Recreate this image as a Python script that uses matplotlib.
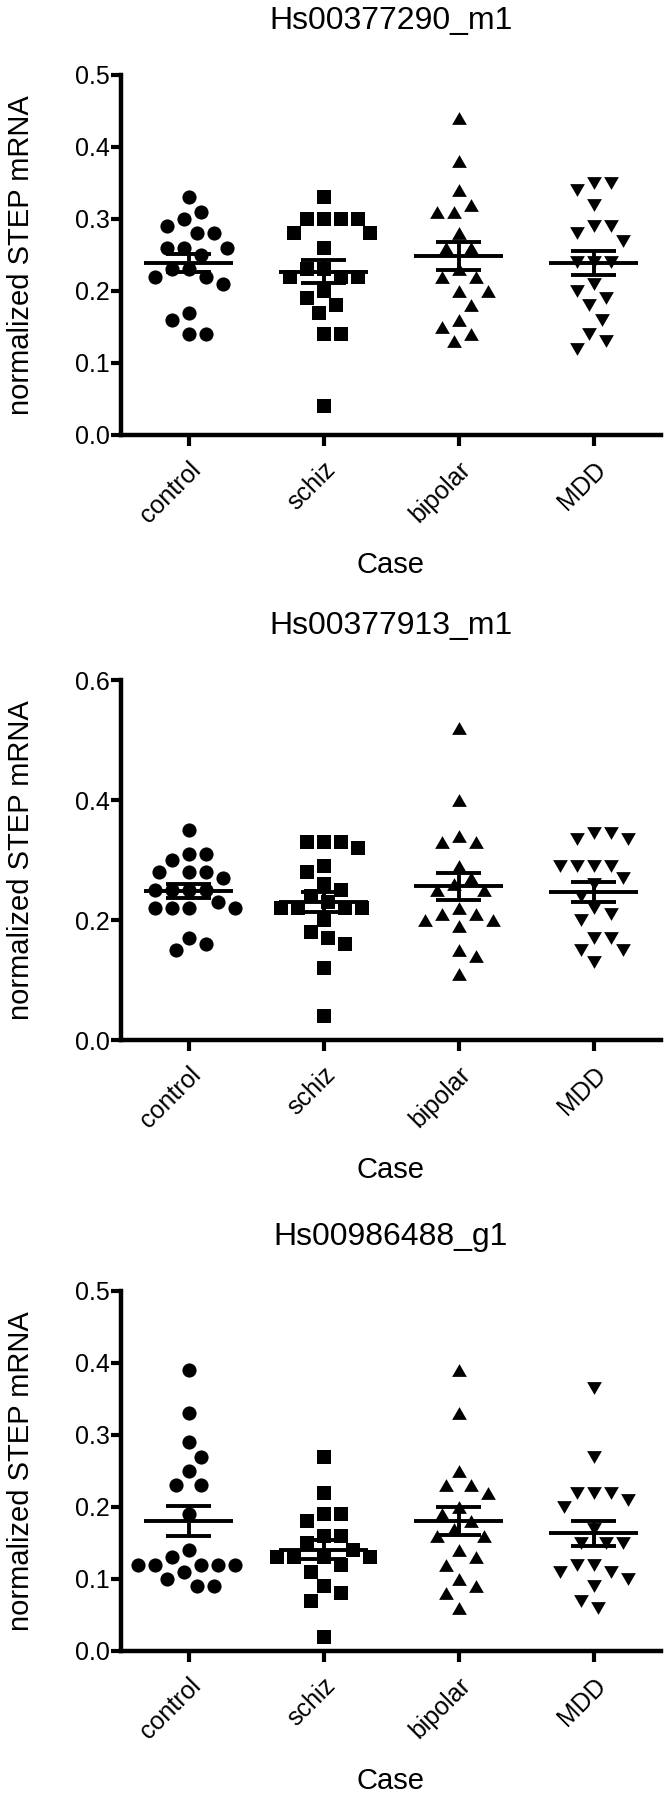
import numpy as np
import matplotlib
matplotlib.use("Agg")
import matplotlib.pyplot as plt
from matplotlib import font_manager

# ---------------- data ----------------
categories = ["control", "schiz", "bipolar", "MDD"]
titles = ["Hs00377290_m1", "Hs00377913_m1", "Hs00986488_g1"]
y_max = [0.5, 0.6, 0.5]
y_step = [0.1, 0.2, 0.1]

p1_control = [0.33, 0.31, 0.30, 0.29, 0.28, 0.28, 0.26, 0.26, 0.26, 0.25,
              0.23, 0.23, 0.22, 0.22, 0.21, 0.17, 0.16, 0.14, 0.14]
p1_schiz = [0.33, 0.30, 0.30, 0.30, 0.30, 0.28, 0.28, 0.26, 0.23, 0.23,
            0.22, 0.22, 0.22, 0.20, 0.19, 0.18, 0.17, 0.14, 0.14, 0.04]
p1_bipolar = [0.44, 0.38, 0.34, 0.32, 0.31, 0.31, 0.28, 0.26, 0.26, 0.23,
              0.22, 0.22, 0.20, 0.20, 0.18, 0.16, 0.15, 0.14, 0.13]
p1_mdd = [0.35, 0.35, 0.34, 0.32, 0.29, 0.29, 0.28, 0.27, 0.24, 0.24,
          0.24, 0.21, 0.20, 0.19, 0.18, 0.16, 0.14, 0.13, 0.12]

p2_control = [0.35, 0.31, 0.31, 0.30, 0.28, 0.28, 0.28, 0.27, 0.25, 0.25,
              0.25, 0.25, 0.23, 0.22, 0.22, 0.22, 0.22, 0.17, 0.16, 0.15]
p2_schiz = [0.33, 0.33, 0.33, 0.32, 0.29, 0.28, 0.26, 0.25, 0.24, 0.23,
            0.22, 0.22, 0.22, 0.22, 0.20, 0.18, 0.17, 0.16, 0.12, 0.04]
p2_bipolar = [0.52, 0.40, 0.34, 0.33, 0.33, 0.29, 0.27, 0.26, 0.25, 0.25,
              0.22, 0.21, 0.21, 0.20, 0.20, 0.19, 0.15, 0.14, 0.11]
p2_mdd = [0.345, 0.345, 0.335, 0.335, 0.29, 0.29, 0.29, 0.29, 0.27, 0.26,
          0.24, 0.22, 0.21, 0.20, 0.17, 0.17, 0.15, 0.15, 0.13]

p3_control = [0.39, 0.33, 0.29, 0.27, 0.25, 0.23, 0.23, 0.19, 0.14, 0.13,
              0.12, 0.12, 0.12, 0.12, 0.12, 0.11, 0.10, 0.09, 0.09]
p3_schiz = [0.27, 0.22, 0.19, 0.19, 0.18, 0.16, 0.16, 0.15, 0.14, 0.13,
            0.13, 0.13, 0.13, 0.12, 0.11, 0.09, 0.08, 0.07, 0.02]
p3_bipolar = [0.39, 0.33, 0.25, 0.23, 0.23, 0.22, 0.20, 0.19, 0.18, 0.17,
              0.16, 0.16, 0.14, 0.13, 0.12, 0.10, 0.09, 0.08, 0.06]
p3_mdd = [0.365, 0.27, 0.22, 0.22, 0.22, 0.21, 0.20, 0.17, 0.15, 0.15,
          0.15, 0.12, 0.12, 0.11, 0.11, 0.10, 0.09, 0.07, 0.06]

panels = [
    [p1_control, p1_schiz, p1_bipolar, p1_mdd],
    [p2_control, p2_schiz, p2_bipolar, p2_mdd],
    [p3_control, p3_schiz, p3_bipolar, p3_mdd],
]

# ---------------- style ----------------
avail = {f.name for f in font_manager.fontManager.ttflist}
fam = [f for f in ["Liberation Sans", "Arial", "DejaVu Sans"] if f in avail]
plt.rcParams["font.family"] = fam

# equilateral-ish triangles like Prism's
tri_up = [(0, 0.866), (-1, -0.866), (1, -0.866), (0, 0.866)]
tri_dn = [(0, -0.866), (-1, 0.866), (1, 0.866), (0, -0.866)]
markers = ["o", "s", tri_up, tri_dn]
msizes = [10.2, 9.4, 10.6, 10.6]

W, H = 666, 1796
fig = plt.figure(figsize=(W / 100, H / 100), dpi=100)

ax_left, ax_right = 121, 661
ax_tops = [75, 680, 1291]
ax_h = 360


def swarm(ax, xc, vals, diam_px):
    """Greedy beeswarm in pixel space through the axes transform."""
    order = np.argsort(-np.asarray(vals), kind="stable")
    placed = []
    xs = np.zeros(len(vals))
    step = diam_px / 4.0
    for idx in order:
        px, py = ax.transData.transform((xc, vals[idx]))
        left_n = sum(1 for p in placed if p[0] < px - 0.1)
        right_n = sum(1 for p in placed if p[0] > px + 0.1)
        signs = (1, -1) if right_n <= left_n else (-1, 1)
        k = 0
        chosen = px
        while True:
            cands = [0.0] if k == 0 else [s * k * step for s in signs]
            ok = None
            for c in cands:
                cx = px + c
                if all((cx - qx) ** 2 + (py - qy) ** 2 >= diam_px ** 2 for qx, qy in placed):
                    ok = cx
                    break
            if ok is not None:
                chosen = ok
                break
            k += 1
        placed.append((chosen, py))
        xs[idx] = ax.transData.inverted().transform((chosen, py))[0]
    return xs


for pi, groups in enumerate(panels):
    top = ax_tops[pi]
    ax = fig.add_axes([ax_left / W, 1 - (top + ax_h) / H,
                       (ax_right - ax_left) / W, ax_h / H])
    ax.set_xlim(-0.5, len(categories) - 0.5)
    ax.set_ylim(0, y_max[pi])

    for gi, vals in enumerate(groups):
        vals = np.asarray(vals, dtype=float)
        xs = swarm(ax, gi, vals, 17.0)
        ax.plot(xs, vals, linestyle="none", marker=markers[gi],
                markersize=msizes[gi], color="black", markeredgewidth=0,
                zorder=3)
        m = vals.mean()
        sem = vals.std(ddof=1) / np.sqrt(len(vals))
        ax.hlines(m, gi - 0.33, gi + 0.33, color="black", lw=2.8, zorder=4)
        ax.hlines([m - sem, m + sem], gi - 0.17, gi + 0.17, color="black",
                  lw=2.8, zorder=4)
        ax.vlines(gi, m - sem, m + sem, color="black", lw=2.8, zorder=4)

    for s in ["top", "right"]:
        ax.spines[s].set_visible(False)
    for s in ["left", "bottom"]:
        ax.spines[s].set_linewidth(3.2)
        ax.spines[s].set_capstyle("projecting")

    yt = np.round(np.arange(0, y_max[pi] + 1e-9, y_step[pi]), 2)
    ax.set_yticks(yt)
    ax.set_yticklabels([f"{v:.1f}" for v in yt])
    ax.set_xticks(range(len(categories)))
    ax.set_xticklabels(categories, rotation=45, ha="right",
                       rotation_mode="anchor")
    ax.tick_params(axis="y", direction="out", length=7, width=3,
                   labelsize=18, pad=1)
    ax.tick_params(axis="x", direction="out", length=8, width=3,
                   labelsize=18, pad=8)
    for lab in ax.get_xticklabels():
        lab.set_x(lab.get_position()[0])

    ax.text(0.5, 1 + 54 / ax_h, titles[pi], transform=ax.transAxes,
            ha="center", va="center", fontsize=23)
    ax.text((21 - ax_left) / (ax_right - ax_left), 0.5,
            "normalized STEP mRNA", transform=ax.transAxes, rotation=90,
            ha="center", va="center", fontsize=21)
    ax.text(0.5, -130 / ax_h, "Case", transform=ax.transAxes,
            ha="center", va="center", fontsize=21)

fig.savefig("out.png", dpi=100)
